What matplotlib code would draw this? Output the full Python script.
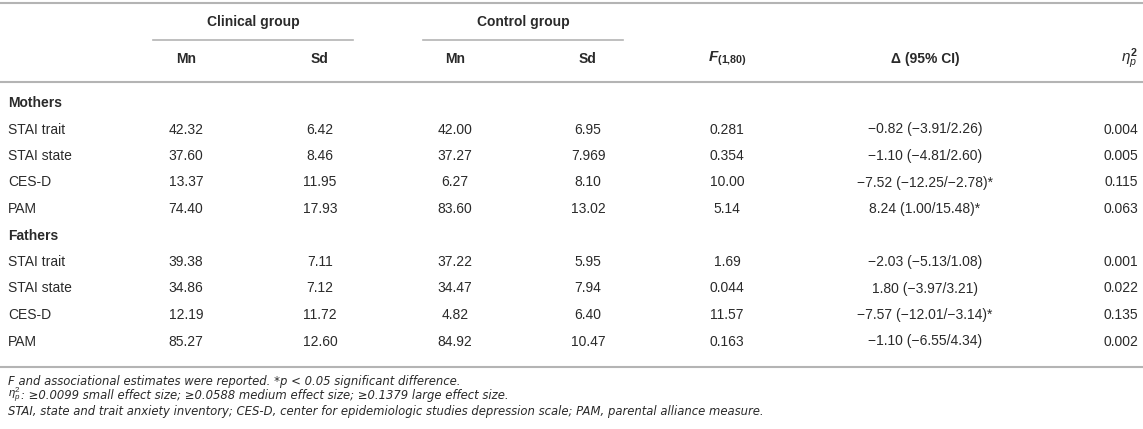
import matplotlib
matplotlib.use("Agg")
import matplotlib.pyplot as plt

plt.rcParams['font.family'] = ['Liberation Sans', 'DejaVu Sans']
plt.rcParams['mathtext.fontset'] = 'custom'
plt.rcParams['mathtext.rm'] = 'Liberation Sans'
plt.rcParams['mathtext.it'] = 'Liberation Sans:italic'
plt.rcParams['mathtext.bf'] = 'Liberation Sans:bold'
plt.rcParams['mathtext.bfit'] = 'Liberation Sans:italic:bold'

# table data
groups = ["Clinical group", "Control group"]
sub_headers = ["Mn", "Sd", "Mn", "Sd"]
sections = ["Mothers", "Fathers"]
measures = ["STAI trait", "STAI state", "CES-D", "PAM"]

clin_mn = [["42.32", "37.60", "13.37", "74.40"], ["39.38", "34.86", "12.19", "85.27"]]
clin_sd = [["6.42", "8.46", "11.95", "17.93"], ["7.11", "7.12", "11.72", "12.60"]]
ctrl_mn = [["42.00", "37.27", "6.27", "83.60"], ["37.22", "34.47", "4.82", "84.92"]]
ctrl_sd = [["6.95", "7.969", "8.10", "13.02"], ["5.95", "7.94", "6.40", "10.47"]]
f_vals = [["0.281", "0.354", "10.00", "5.14"], ["1.69", "0.044", "11.57", "0.163"]]
delta = [["\u22120.82 (\u22123.91/2.26)", "\u22121.10 (\u22124.81/2.60)",
          "\u22127.52 (\u221212.25/\u22122.78)*", "8.24 (1.00/15.48)*"],
         ["\u22122.03 (\u22125.13/1.08)", "1.80 (\u22123.97/3.21)",
          "\u22127.57 (\u221212.01/\u22123.14)*", "\u22121.10 (\u22126.55/4.34)"]]
eta = [["0.004", "0.005", "0.115", "0.063"], ["0.001", "0.022", "0.135", "0.002"]]

footnote_1 = "F and associational estimates were reported. *p < 0.05 significant difference."
footnote_2 = ": \u22650.0099 small effect size; \u22650.0588 medium effect size; \u22650.1379 large effect size."
footnote_3 = "STAI, state and trait anxiety inventory; CES-D, center for epidemiologic studies depression scale; PAM, parental alliance measure."

W, H = 1143, 429
fig = plt.figure(figsize=(W / 100, H / 100), dpi=100)
ax = fig.add_axes([0, 0, 1, 1])
ax.set_xlim(0, W)
ax.set_ylim(H, 0)
ax.axis('off')

txt = '#2a2a2a'
rule = '#b4b4b4'
fs = 10

col_x = [186, 320, 455, 588, 727, 925]
eta_x = 1138
label_x = 8

# rules
ax.plot([0, W], [3, 3], color=rule, lw=1.5)
ax.plot([0, W], [81.5, 81.5], color=rule, lw=1.5)
ax.plot([0, W], [367, 367], color=rule, lw=1.5)
ax.plot([153, 353], [40, 40], color=rule, lw=1.2)
ax.plot([423, 623], [40, 40], color=rule, lw=1.2)

# header
ax.text(253, 22, groups[0], ha='center', va='center', fontsize=fs, fontweight='bold', color=txt)
ax.text(523, 22, groups[1], ha='center', va='center', fontsize=fs, fontweight='bold', color=txt)
for x, s in zip(col_x[:4], sub_headers):
    ax.text(x, 59, s, ha='center', va='center', fontsize=fs, fontweight='bold', color=txt)
ax.text(col_x[4], 59, r'$\mathbfit{F}_{\mathbf{(1{,}80)}}$', ha='center', va='center', fontsize=fs + 1, color=txt)
ax.text(col_x[5], 59, '\u0394 (95% CI)', ha='center', va='center', fontsize=fs, fontweight='bold', color=txt)
ax.text(eta_x, 59, r'$\eta_p^\mathbf{2}$', ha='right', va='center', fontsize=fs + 1, color=txt)

# body
y = 103
row_h = 26.5
for si, sec in enumerate(sections):
    ax.text(label_x, y, sec, ha='left', va='center', fontsize=fs, fontweight='bold', color=txt)
    y += row_h
    for ri, m in enumerate(measures):
        ax.text(label_x, y, m, ha='left', va='center', fontsize=fs, color=txt)
        vals = [clin_mn[si][ri], clin_sd[si][ri], ctrl_mn[si][ri], ctrl_sd[si][ri],
                f_vals[si][ri], delta[si][ri]]
        for x, v in zip(col_x, vals):
            ax.text(x, y, v, ha='center', va='center', fontsize=fs, color=txt)
        ax.text(eta_x, y, eta[si][ri], ha='right', va='center', fontsize=fs, color=txt)
        y += row_h

# footnotes
fn_kw = dict(ha='left', va='center', fontsize=8.4, family='DejaVu Sans', style='italic', color=txt)
ax.text(label_x, 381.5, footnote_1, **fn_kw)
eta_t = ax.text(label_x, 395.5, r'$\eta_p^2$', ha='left', va='center', fontsize=8.2, color=txt)
fig.canvas.draw()
bb = eta_t.get_window_extent(renderer=fig.canvas.get_renderer())
ax.text(label_x + bb.width, 396, footnote_2, **fn_kw)
ax.text(label_x, 411.5, footnote_3, **fn_kw)

fig.savefig('out.png', dpi=100)
